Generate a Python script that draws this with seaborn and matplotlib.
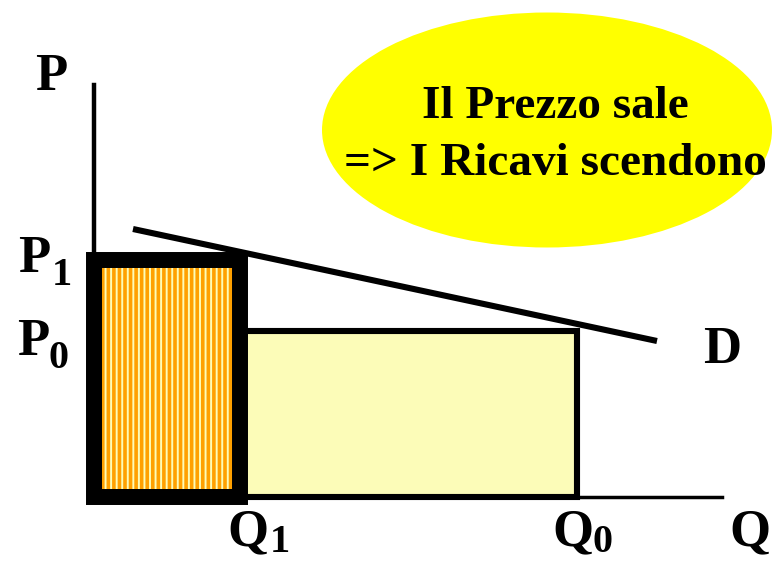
import matplotlib
matplotlib.use("Agg")
import matplotlib.pyplot as plt
from matplotlib.patches import Ellipse
import seaborn as sns

# Market quantities and prices
q1, q0 = 2.92, 9.66          # quantity sold after / before the price increase
p1, p0 = 4.74, 3.32          # new (higher) price / original price
demand_q = [0.78, 11.26]     # demand curve end points (quantity)
demand_p = [5.36, 3.12]      # demand curve end points (price)
q_axis_end = 12.56
p_axis_end = 8.24

headline = ["Il Prezzo sale", "=> I Ricavi scendono"]

sns.set_theme(style="white")
plt.rcParams["hatch.linewidth"] = 2.6
plt.rcParams["font.family"] = ["Liberation Serif", "DejaVu Serif"]

fig = plt.figure(figsize=(7.73, 5.62), dpi=100)
ax = fig.add_axes([0, 0, 1, 1])
ax.set_xlim(-1.88, 13.58)
ax.set_ylim(-1.30, 9.94)
ax.set_xticks([])
ax.set_yticks([])

# Axes drawn as spines through the origin
for side in ("top", "right"):
    ax.spines[side].set_visible(False)
ax.spines["left"].set_position(("data", 0))
ax.spines["bottom"].set_position(("data", 0))
ax.spines["left"].set_bounds(0, p_axis_end)
ax.spines["bottom"].set_bounds(0, q_axis_end)
ax.spines["left"].set_linewidth(3.2)
ax.spines["bottom"].set_linewidth(2.5)
ax.spines["left"].set_color("black")
ax.spines["bottom"].set_color("black")

light_yellow = "#FCFCB8"
orange = "#FFA000"

# Revenue lost: Q1..Q0 at the old price
ax.bar(q1, p0, width=q0 - q1, align="edge", color=light_yellow,
       edgecolor="black", linewidth=4.4, zorder=1)

# Revenue at the new price: 0..Q1 at P1 (striped fill, heavy border)
ax.bar(0, p1, width=q1, align="edge", color=light_yellow,
       edgecolor=orange, linewidth=0, hatch="|||", zorder=2)
ax.bar(0, p1, width=q1, align="edge", fill=False,
       edgecolor="black", linewidth=11.5, joinstyle="miter", zorder=3)

# Demand curve
sns.lineplot(x=demand_q, y=demand_p, ax=ax, color="black", linewidth=4.4,
             solid_capstyle="butt", zorder=4)

# Callout bubble
ax.add_patch(Ellipse((9.06, 7.34), width=9.0, height=4.7,
                     facecolor="#FFFF00", edgecolor="none", zorder=1))
ax.text(9.22, 7.58, headline[0], ha="center", va="baseline",
        fontsize=34, fontweight="bold", color="black", zorder=5)
ax.text(9.22, 6.44, headline[1], ha="center", va="baseline",
        fontsize=34, fontweight="bold", color="black", zorder=5)

# Axis and curve labels
big = dict(fontsize=38, fontweight="bold", color="black",
           ha="left", va="baseline")
sub = dict(fontsize=29, fontweight="bold", color="black",
           ha="left", va="baseline")

ax.text(-1.18, 8.14, "P", **big)
ax.text(-1.52, 4.50, "P", **big)
ax.text(-0.84, 4.24, "1", **sub)
ax.text(-1.54, 2.84, "P", **big)
ax.text(-0.92, 2.58, "0", **sub)

ax.text(2.66, -0.96, "Q", **big)
ax.text(3.52, -1.10, "1", **sub)
ax.text(9.16, -0.96, "Q", **big)
ax.text(9.98, -1.10, "0", **sub)
ax.text(12.70, -0.96, "Q", **big)

ax.text(12.18, 2.68, "D", **big)

fig.savefig("out.png", dpi=100)
